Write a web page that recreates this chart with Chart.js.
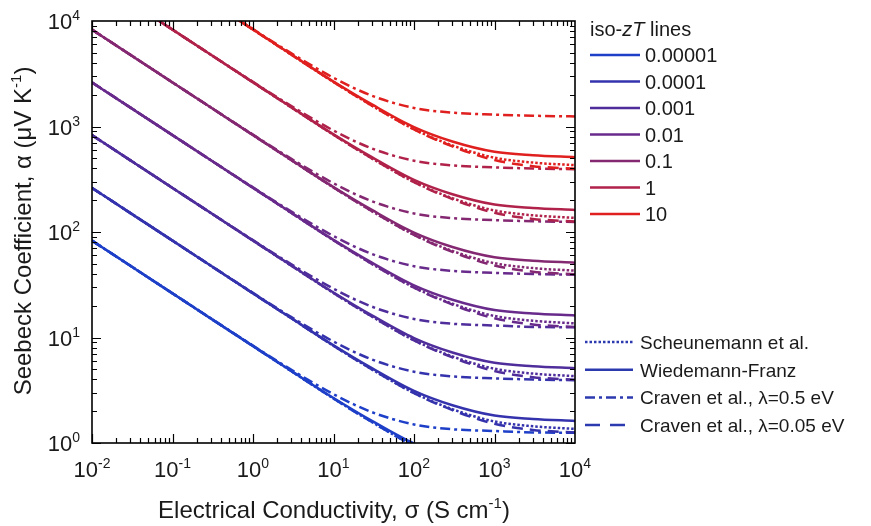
<!DOCTYPE html>
<html><head><meta charset="utf-8">
<script src="https://cdn.jsdelivr.net/npm/chart.js@4/dist/chart.umd.min.js"></script>
<style>html,body{margin:0;padding:0;background:#fff;}#wrap{width:871px;height:526px;}</style>
</head><body><div id="wrap"><canvas id="c" width="871" height="526"></canvas></div>
<script>
// Electrical conductivity sample points (S cm^-1)
const sigma = [0.01, 0.03, 0.1, 0.3, 1, 3, 10, 30, 100, 300, 1000, 3000, 10000];

const zTLabels = ['0.00001','0.0001','0.001','0.01','0.1','1','10'];
const modelLabels = ['Scheunemann et al.','Wiedemann-Franz','Craven et al., \u03bb=0.5 eV','Craven et al., \u03bb=0.05 eV'];
const xTickExps = [-2,-1,0,1,2,3,4];
const yTickExps = [0,1,2,3,4];

// Wiedemann-Franz (solid), Seebeck in uV/K
const wf_1e5 = [82.8, 47.8, 26.2, 15.1, 8.29, 4.81, 2.67, 1.62, 0.987, 0.721, 0.576, 0.534, 0.512];
const wf_1e4 = [261.7, 151.1, 82.8, 47.8, 26.2, 15.2, 8.43, 5.12, 3.12, 2.28, 1.82, 1.69, 1.62];
const wf_1e3 = [827.7, 477.8, 261.7, 151.2, 82.9, 48.1, 26.7, 16.2, 9.87, 7.21, 5.76, 5.34, 5.12];
const wf_1e2 = [2617, 1511, 827.6, 478.1, 262.2, 152, 84.3, 51.2, 31.2, 22.8, 18.2, 16.9, 16.2];
const wf_1e1 = [8277, 4778, 2617, 1512, 829.1, 480.7, 266.6, 161.9, 98.7, 72.1, 57.6, 53.4, 51.2];
const wf_1 = [26173, 15111, 8276, 4781, 2622, 1520, 843, 512, 312, 228, 182, 169, 162];
const wf_10 = [82767, 47785, 26171, 15119, 8291, 4807, 2666, 1619, 987, 721, 576, 534, 512];

// Scheunemann et al. (dotted)
const sch_1e5 = [82.8, 47.8, 26.2, 15.1, 8.29, 4.79, 2.64, 1.58, 0.942, 0.661, 0.506, 0.455, 0.430];
const sch_1e4 = [261.7, 151.1, 82.8, 47.8, 26.2, 15.2, 8.35, 4.99, 2.98, 2.09, 1.60, 1.44, 1.36];
const sch_1e3 = [827.7, 477.8, 261.7, 151.2, 82.9, 47.9, 26.4, 15.8, 9.42, 6.61, 5.06, 4.55, 4.30];
const sch_1e2 = [2617, 1511, 827.6, 478.1, 262.2, 151.5, 83.5, 49.9, 29.8, 20.9, 16.0, 14.4, 13.6];
const sch_1e1 = [8277, 4778, 2617, 1512, 829.1, 479.1, 264.1, 157.8, 94.2, 66.1, 50.6, 45.5, 43.0];
const sch_1 = [26173, 15111, 8276, 4781, 2622, 1515, 835, 499, 298, 209, 160, 144, 136];
const sch_10 = [82767, 47785, 26171, 15119, 8291, 4791, 2641, 1578, 942, 661, 506, 455, 430];

// Craven et al., lambda = 0.5 eV (dash-dot)
const cr05_1e5 = [82.8, 47.8, 26.2, 15.2, 8.37, 4.94, 2.90, 1.96, 1.50, 1.35, 1.30, 1.26, 1.25];
const cr05_1e4 = [261.8, 151.2, 82.9, 47.95, 26.5, 15.6, 9.16, 6.19, 4.74, 4.28, 4.10, 4.00, 3.94];
const cr05_1e3 = [827.8, 478.0, 262.0, 151.6, 83.7, 49.4, 29.0, 19.6, 15.0, 13.5, 13.0, 12.6, 12.5];
const cr05_1e2 = [2618, 1512, 828.6, 479.5, 264.7, 156.1, 91.6, 61.9, 47.4, 42.8, 41.0, 40.0, 39.4];
const cr05_1e1 = [8278, 4780, 2620, 1516, 837.1, 493.6, 289.7, 195.7, 149.9, 135.3, 129.7, 126.5, 124.6];
const cr05_1 = [26176, 15116, 8286, 4795, 2647, 1561, 916, 619, 474, 428, 410, 400, 394];
const cr05_10 = [82776, 47800, 26203, 15163, 8371, 4936, 2897, 1957, 1499, 1353, 1297, 1265, 1246];

// Craven et al., lambda = 0.05 eV (dashed)
const cr005_1e5 = [82.8, 47.8, 26.2, 15.1, 8.29, 4.79, 2.64, 1.58, 0.939, 0.648, 0.481, 0.421, 0.398];
const cr005_1e4 = [261.7, 151.1, 82.8, 47.8, 26.2, 15.2, 8.35, 4.99, 2.97, 2.05, 1.52, 1.33, 1.26];
const cr005_1e3 = [827.7, 477.8, 261.7, 151.2, 82.9, 47.9, 26.4, 15.8, 9.39, 6.48, 4.81, 4.21, 3.98];
const cr005_1e2 = [2617, 1511, 827.6, 478.1, 262.2, 151.5, 83.5, 49.9, 29.7, 20.5, 15.2, 13.3, 12.6];
const cr005_1e1 = [8277, 4778, 2617, 1512, 829.1, 479.1, 264.1, 157.8, 93.9, 64.8, 48.1, 42.1, 39.8];
const cr005_1 = [26173, 15111, 8276, 4781, 2622, 1515, 835, 499, 297, 205, 152, 133, 126];
const cr005_10 = [82767, 47785, 26171, 15119, 8291, 4791, 2641, 1578, 939, 648, 481, 421, 398];

const zColors = ['#1e3fc8','#3433ad','#4f2e9c','#682b8c','#842872','#b0224a','#e01f1f'];
const legendLineColor = '#2c3ab0';

const models = [
  {series:[cr005_1e5,cr005_1e4,cr005_1e3,cr005_1e2,cr005_1e1,cr005_1,cr005_10], dash:[11,7], key:3},
  {series:[cr05_1e5,cr05_1e4,cr05_1e3,cr05_1e2,cr05_1e1,cr05_1,cr05_10], dash:[10,4,3,4], key:2},
  {series:[sch_1e5,sch_1e4,sch_1e3,sch_1e2,sch_1e1,sch_1,sch_10], dash:[2.5,2], key:0},
  {series:[wf_1e5,wf_1e4,wf_1e3,wf_1e2,wf_1e1,wf_1,wf_10], dash:[], key:1}
];
const legendDash = {0:[2.5,2], 1:[], 2:[10,4,3,4], 3:[15,10]};

const datasets = [];
models.forEach(m => {
  m.series.forEach((arr, i) => {
    datasets.push({
      label: modelLabels[m.key] + ' zT=' + zTLabels[i],
      data: sigma.map((s, j) => ({x: s, y: arr[j]})),
      borderColor: zColors[i],
      borderWidth: 2.5,
      borderDash: m.dash,
      pointRadius: 0,
      fill: false,
      cubicInterpolationMode: 'monotone',
      clip: 0
    });
  });
});

const FONT = 'Arial, "Liberation Sans", sans-serif';

function drawParts(ctx, parts, x, y, align) {
  let total = 0;
  parts.forEach(p => { ctx.font = p.f; p.w = ctx.measureText(p.t).width; total += p.w; });
  let cx = align === 'center' ? x - total/2 : (align === 'right' ? x - total : x);
  ctx.textAlign = 'left';
  ctx.textBaseline = 'alphabetic';
  parts.forEach(p => { ctx.font = p.f; ctx.fillText(p.t, cx, y + (p.dy || 0)); cx += p.w; });
}

const decor = {
  id: 'decor',
  afterDraw(chart) {
    const ctx = chart.ctx;
    const {left, right, top, bottom} = chart.chartArea;
    const xs = chart.scales.x, ys = chart.scales.y;
    ctx.save();
    ctx.strokeStyle = '#000';
    ctx.fillStyle = '#000';
    ctx.lineWidth = 1.6;
    ctx.setLineDash([]);
    ctx.strokeRect(left, top, right - left, bottom - top);
    ctx.lineWidth = 1.2;
    ctx.beginPath();
    for (let e = -2; e < 4; e++) {
      for (let m = 1; m <= 9; m++) {
        const v = m * Math.pow(10, e);
        const px = Math.round(xs.getPixelForValue(v)) + 0.5;
        const len = m === 1 ? 9 : 5;
        ctx.moveTo(px, bottom); ctx.lineTo(px, bottom - len);
        ctx.moveTo(px, top); ctx.lineTo(px, top + len);
      }
    }
    for (let e = 0; e < 4; e++) {
      for (let m = 1; m <= 9; m++) {
        const v = m * Math.pow(10, e);
        const py = Math.round(ys.getPixelForValue(v)) + 0.5;
        const len = m === 1 ? 9 : 5;
        ctx.moveTo(left, py); ctx.lineTo(left + len, py);
        ctx.moveTo(right, py); ctx.lineTo(right - len, py);
      }
    }
    ctx.stroke();

    ctx.fillStyle = '#1a1a1a';
    const big = '22px ' + FONT, sup = '14px ' + FONT;
    xTickExps.forEach(e => {
      const px = xs.getPixelForValue(Math.pow(10, e));
      drawParts(ctx, [{t:'10', f:big}, {t:String(e), f:sup, dy:-9}], px, 477, 'center');
    });
    yTickExps.forEach(e => {
      const py = ys.getPixelForValue(Math.pow(10, e));
      drawParts(ctx, [{t:'10', f:big}, {t:String(e), f:sup, dy:-9}], 80, py + 8, 'right');
    });

    // axis titles
    const tf = '24px ' + FONT, ts = '15px ' + FONT;
    drawParts(ctx, [{t:'Electrical Conductivity, \u03c3 (S cm', f:tf}, {t:'-1', f:ts, dy:-10}, {t:')', f:tf}], 334, 518, 'center');
    ctx.save();
    ctx.translate(31, 231);
    ctx.rotate(-Math.PI/2);
    drawParts(ctx, [{t:'Seebeck Coefficient, \u03b1 (\u03bcV K', f:tf}, {t:'-1', f:ts, dy:-10}, {t:')', f:tf}], 0, 0, 'center');
    ctx.restore();

    // iso-zT legend
    const lf = '20px ' + FONT;
    drawParts(ctx, [{t:'iso-', f:lf}, {t:'zT', f:'italic ' + lf}, {t:' lines', f:lf}], 590, 36, 'left');
    zTLabels.forEach((lab, i) => {
      const y = 55 + i * 26.5;
      ctx.strokeStyle = zColors[i];
      ctx.lineWidth = 2.5;
      ctx.setLineDash([]);
      ctx.beginPath(); ctx.moveTo(590, y); ctx.lineTo(640, y); ctx.stroke();
      ctx.fillStyle = '#1a1a1a';
      drawParts(ctx, [{t:lab, f:lf}], 645, y + 7, 'left');
    });

    // model legend
    const mf = '19px ' + FONT;
    modelLabels.forEach((lab, k) => {
      const y = 342 + k * 27.7;
      ctx.strokeStyle = legendLineColor;
      ctx.lineWidth = 2.5;
      ctx.setLineDash(legendDash[k]);
      ctx.beginPath(); ctx.moveTo(585, y); ctx.lineTo(633, y); ctx.stroke();
      ctx.setLineDash([]);
      ctx.fillStyle = '#1a1a1a';
      drawParts(ctx, [{t:lab, f:mf}], 640, y + 7, 'left');
    });
    ctx.restore();
  }
};

new Chart(document.getElementById('c'), {
  type: 'line',
  data: {datasets},
  options: {
    responsive: false,
    animation: false,
    devicePixelRatio: 1,
    parsing: true,
    layout: {padding: {left: 92, right: 296, top: 21, bottom: 83}},
    plugins: {legend: {display: false}, tooltip: {enabled: false}},
    scales: {
      x: {type: 'logarithmic', min: 0.01, max: 10000, display: false},
      y: {type: 'logarithmic', min: 1, max: 10000, display: false}
    }
  },
  plugins: [decor]
});
</script>
</body></html>
